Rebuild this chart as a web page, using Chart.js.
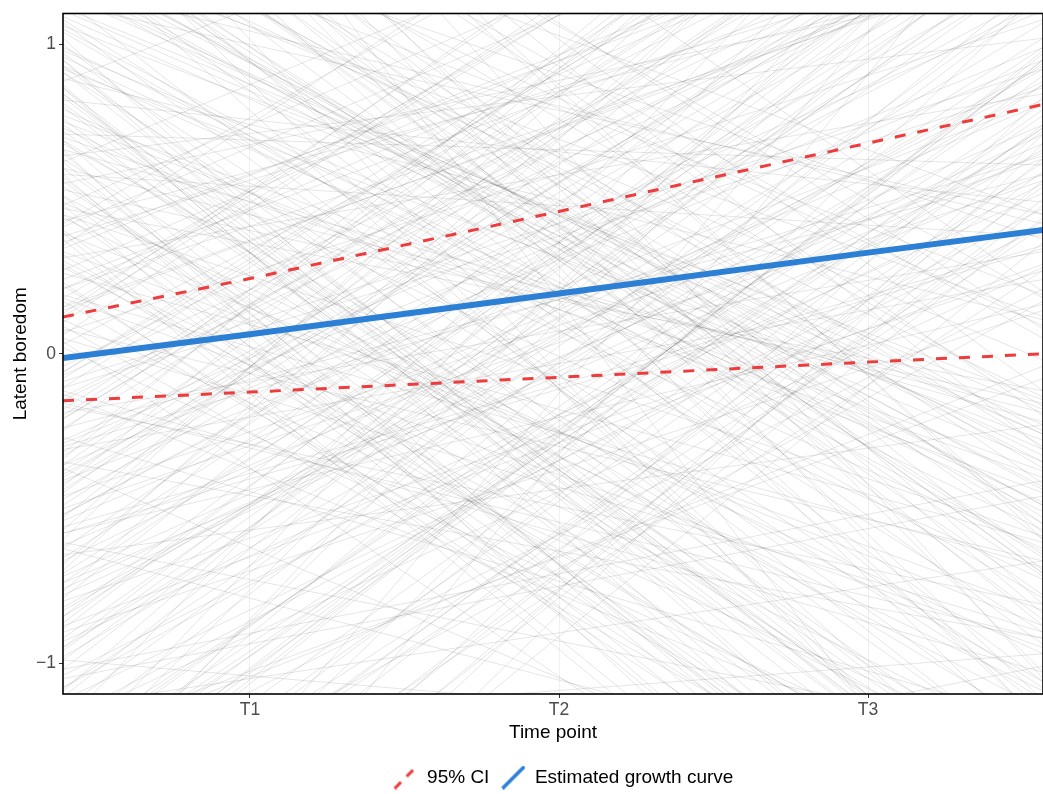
<!DOCTYPE html>
<html>
<head>
<meta charset="utf-8">
<script src="https://cdn.jsdelivr.net/npm/chart.js@4.4.0/dist/chart.umd.min.js"></script>
<style>
  html, body { margin: 0; padding: 0; background: #fff; }
  #wrap { width: 1043px; height: 794px; }
</style>
</head>
<body>
<div id="wrap"><canvas id="growthChart"></canvas></div>
<script>
// x range of the panel and tick labels
const xMin = 0.395;
const xMax = 3.566;
const timeLabels = ['T1', 'T2', 'T3'];

// individual trajectories: value at left edge and at right edge of the panel
const startY = [
  1.05, -0.82, 0.34, -1.40, 0.91, -0.15, 1.62, -0.63, 0.12, -1.08,
  0.77, 0.48, -0.37, 1.28, -0.95, 0.05, -1.72, 0.66, -0.21, 1.15,
  -0.54, 0.88, -1.25, 0.29, 1.45, -0.71, 0.18, -0.04, 0.99, -1.33,
  0.57, -0.88, 1.36, -0.28, 0.73, -1.55, 0.41, 1.21, -0.46, -0.99,
  0.24, 1.83, -0.12, -0.67, 0.95, -1.18, 0.62, 0.08, -0.31, 1.09,
  -1.90, 0.51, -0.76, 1.52, 0.36, -0.58, -1.02, 0.84, 0.15, -0.24,
  1.31, -1.46, 0.69, -0.09, 0.45, -0.85, 1.71, -0.39, 0.22, -1.12,
  0.93, -0.60, 1.04, -0.19, 0.55, -1.63, 0.31, 1.18, -0.49, 0.02,
  -0.93, 0.79, 1.41, -0.33, -1.21, 0.64, 0.11, -0.72, 1.26, -0.06,
  0.47, -1.37, 0.86, -0.52, 1.58, -0.17, 0.38, -1.05, 0.71, -0.27,
  1.12, -0.80, 0.19, 0.97, -1.50, 0.58, -0.42, 1.33, -0.11, -0.65,
  0.27, 1.67, -0.90, 0.43, -0.35, 0.82, -1.28, 0.07, 1.48, -0.56,
  -0.74, 0.63, 1.19, -1.15, 0.26, -0.44, 0.92, -0.98, 1.39, 0.14,
  -0.29, 0.75, -1.41, 0.53, 1.07, -0.62, 0.33, -1.09, 0.89, -0.13,
  1.24, -0.87, 0.44, -0.50, 1.56, -1.31, 0.60, -0.07, 0.81, -0.78,
  -1.19, 0.39, 1.13, -0.36, 0.68, -1.58, 0.21, 0.96, -0.41, 1.44
];
const endY = [
  -0.64, 0.93, 1.58, 0.21, -1.12, 1.37, 0.45, -1.47, 2.05, 0.66,
  -0.38, 1.84, -1.71, 0.12, 1.02, -0.90, 0.54, -0.22, 1.69, -1.34,
  0.81, 2.12, -0.08, -1.56, 0.37, 1.25, -0.95, 1.48, -0.51, 0.73,
  -1.88, 0.29, -0.14, 1.11, -0.73, 0.98, 1.76, -0.43, 0.63, -1.26,
  1.41, 0.05, -1.03, 0.88, -1.62, 0.47, 1.93, -0.67, 0.24, -0.31,
  1.18, -1.15, 0.71, -0.86, 1.52, 0.16, -0.41, -1.39, 1.29, 0.58,
  -0.02, 1.64, -1.21, 0.92, -0.59, 1.07, -0.17, 1.35, -1.77, 0.41,
  -0.48, 2.31, -0.79, 0.33, 1.21, -1.01, 0.84, -0.26, 1.57, -1.44,
  0.52, -0.63, 0.19, 1.45, -0.97, 1.02, -1.30, 0.68, -0.35, 1.86,
  -0.12, 0.77, -1.58, 1.14, 0.09, -0.81, 1.33, -0.46, 0.61, -1.19,
  1.72, 0.27, -0.69, -1.08, 0.95, 0.38, 1.44, -1.52, 0.86, -0.23,
  1.61, -0.55, 0.14, 1.26, -0.92, 0.49, -0.04, 1.08, -1.67, 0.35,
  0.58, -1.36, 0.42, 1.17, -0.61, 1.53, -0.28, 0.87, -0.94, 1.31,
  0.99, -0.45, 1.22, -0.16, -1.24, 0.74, -0.83, 1.65, 0.11, -1.41,
  -0.33, 1.46, -1.09, 0.56, -0.71, 0.94, -0.19, 1.38, -1.53, 0.65,
  0.28, -0.88, 0.45, 1.79, -1.06, 0.17, 1.27, -0.57, 0.82, -0.25
];
// steeper trajectories, same layout
const startY2 = [
  2.10, -2.30, 0.62, -0.18, 1.74, -1.66, 0.35, 2.45, -0.92, 0.04,
  -1.48, 0.83, 1.96, -0.57, -2.05, 0.28, 1.38, -0.79, 0.66, -1.23,
  0.15, 2.28, -0.40, 1.02, -1.81, 0.49, -0.11, 1.59, -2.40, 0.91,
  -0.66, 0.37, 1.23, -1.36, 2.02, -0.25, 0.74, -1.04, 0.10, 1.85,
  -1.60, 0.56, -0.34, 1.30, -2.15, 0.98, 0.21, -0.83, 1.67, -0.47,
  0.69, -1.92, 1.44, -0.06, 2.35, -1.11, 0.40, -0.70, 1.16, -1.45,
  0.03, 1.90, -0.53, 0.80, -1.75, 1.27, -0.20, 0.58, -2.22, 1.08,
  -0.89, 0.45, 2.18, -1.29, 0.13, -0.61, 1.52, -1.02, 0.87, -0.30,
  1.70, -2.00, 0.32, -0.77, 1.11, -1.53, 0.65, 2.40, -0.38, -1.14,
  0.54, -0.08, 1.35, -1.70, 0.95, -0.43, 2.08, -0.96, 0.17, 1.48,
  -1.32, 0.72, -0.24, 1.81, -2.12, 0.30, 1.06, -0.68, 0.48, -1.57,
  1.62, -0.14, 0.86, -1.20, 2.25, -0.52, 0.09, -1.85, 1.19, 0.39,
  -0.99, 1.41, -0.32, 0.76, -1.42, 1.97, -0.63, 0.23, -2.28, 0.93,
  0.60, -1.08, 1.29, -0.45, 1.88, -1.62, 0.42, -0.16, 1.00, -0.85,
  -0.21, 2.14, -1.38, 0.51, -0.74, 1.36, -1.96, 0.18, 1.73, -0.58,
  0.84, -1.27, 0.06, 1.57, -0.95, 2.30, -0.36, 0.70, -1.50, 1.12
];
const endY2 = [
  -1.20, 1.60, -1.95, 1.85, -0.42, 0.72, 2.40, -1.05, 1.30, -2.10,
  0.95, -1.62, 0.18, 2.20, 0.44, -1.38, -0.65, 1.72, -2.30, 1.15,
  2.05, -0.58, 1.48, -1.86, 0.27, -0.97, 1.93, -0.30, 0.68, -1.54,
  1.36, -2.25, -0.49, 1.77, -0.81, 2.15, -1.44, 0.55, 2.33, -0.70,
  0.62, -1.90, 2.28, -1.06, 0.83, -0.35, 1.58, 0.92, -1.76, 1.25,
  -2.02, 0.48, -1.15, 1.96, -0.60, 1.40, -1.82, 2.10, -0.23, 0.79,
  1.64, -1.30, 2.02, -1.68, 0.59, -0.44, 1.85, -2.18, 0.36, -0.90,
  1.52, -1.78, -0.12, 0.87, 2.26, -1.24, -0.53, 1.39, -1.98, 0.64,
  -0.88, 1.70, -1.57, 2.12, -0.26, 0.97, -2.06, 0.20, 1.58, -0.67,
  -1.43, 1.88, -0.72, 0.41, -1.85, 2.24, 0.08, 1.31, -1.66, -0.37,
  2.00, -1.50, 1.63, -0.84, 0.56, -1.27, -0.15, 1.92, -2.14, 0.74,
  -0.60, 1.44, -1.92, 2.08, -0.31, 1.17, -1.71, 0.63, -0.49, -2.20,
  1.26, -0.78, 2.17, -1.61, 0.90, -0.20, 1.49, -1.88, 0.71, -1.33,
  -1.74, 0.99, -0.55, 1.82, -1.12, 0.43, 2.22, -0.92, -1.47, 1.54,
  1.67, -1.03, 0.73, -2.05, 1.35, -0.66, 0.50, 1.99, -1.19, 0.34,
  -1.58, 0.81, 2.19, -0.71, 1.47, -1.90, 0.95, -0.40, 1.86, -0.18
];

// estimated growth curve and its 95% CI
const curveX = [0.395, 1, 2, 3, 3.566];
const growthCurve = [-0.014, 0.063, 0.195, 0.327, 0.400];
const ciUpper = [0.119, 0.243, 0.460, 0.681, 0.806];
const ciLower = [-0.152, -0.124, -0.076, -0.027, 0.000];

const RED = '#EE3B3B';
const BLUE = '#2B7FD5';
const FONT = 'Liberation Sans, Arial, sans-serif';

// legend key glyphs: diagonal strokes like ggplot's abline key,
// with a little blank room on the left to space the items apart
function keyGlyph(color, dashed) {
  const c = document.createElement('canvas');
  c.width = 28; c.height = 24;
  const g = c.getContext('2d');
  g.strokeStyle = color;
  g.lineWidth = dashed ? 3 : 3.5;
  g.lineCap = 'butt';
  if (dashed) g.setLineDash([9, 8]);
  g.beginPath();
  g.moveTo(5, 23);
  g.lineTo(27, 1);
  g.stroke();
  return c;
}

const toPoints = (xs, ys) => xs.map((x, i) => ({ x: x, y: ys[i] }));

const datasets = [];
datasets.push({
  label: '95% CI', data: toPoints(curveX, ciUpper),
  borderColor: RED, borderWidth: 3, borderDash: [11, 12], order: 1,
  pointStyle: keyGlyph(RED, true)
});
datasets.push({
  label: '95% CI lower', data: toPoints(curveX, ciLower),
  borderColor: RED, borderWidth: 3, borderDash: [11, 12], order: 1
});
datasets.push({
  label: 'Estimated growth curve', data: toPoints(curveX, growthCurve),
  borderColor: BLUE, borderWidth: 6, order: 0,
  pointStyle: keyGlyph(BLUE, false)
});
function addTrajectories(a, b) {
  for (let i = 0; i < Math.min(a.length, b.length); i++) {
    datasets.push({
      label: 'traj', data: [{ x: xMin, y: a[i] }, { x: xMax, y: b[i] }],
      borderColor: 'rgba(0,0,0,0.1)', borderWidth: 1, order: 5
    });
  }
}
addTrajectories(startY, endY);
addTrajectories(startY2, endY2);

// panel border on all four sides
const panelBorder = {
  id: 'panelBorder',
  afterDatasetsDraw(chart) {
    const { ctx, chartArea: a } = chart;
    ctx.save();
    ctx.strokeStyle = '#000';
    ctx.lineWidth = 1.6;
    ctx.strokeRect(a.left, a.top, a.right - a.left, a.bottom - a.top);
    ctx.restore();
  }
};

// centre the legend under the panel (not the whole canvas), a bit lower
const legendShift = {
  id: 'legendShift',
  afterLayout(chart) {
    const lg = chart.legend;
    if (!lg) return;
    lg.left += 40; lg.right += 40;
    lg.top += 3; lg.bottom += 3;
  }
};

new Chart(document.getElementById('growthChart'), {
  type: 'line',
  data: { datasets: datasets },
  options: {
    responsive: true,
    maintainAspectRatio: false,
    animation: false,
    events: [],
    layout: { padding: { left: 0, right: 0, top: 13, bottom: 0 } },
    elements: { point: { radius: 0 }, line: { tension: 0 } },
    plugins: {
      tooltip: { enabled: false },
      legend: {
        position: 'bottom',
        labels: {
          usePointStyle: true,
          pointStyleWidth: 28,
          color: '#000',
          font: { family: FONT, size: 19 },
          padding: 8,
          filter: item => item.text === '95% CI' || item.text === 'Estimated growth curve',
          sort: (a, b) => a.datasetIndex - b.datasetIndex
        }
      }
    },
    scales: {
      x: {
        type: 'linear',
        min: xMin, max: xMax,
        afterBuildTicks: axis => { axis.ticks = [1, 2, 3].map(v => ({ value: v })); },
        afterFit: axis => { axis.height = 63; },
        ticks: {
          callback: v => timeLabels[v - 1],
          color: '#4D4D4D', padding: 2,
          font: { family: FONT, size: 17.5 },
          maxRotation: 0
        },
        grid: { color: 'rgba(0,0,0,0.06)', tickColor: '#333', tickLength: 4, drawOnChartArea: true },
        border: { display: false },
        title: {
          display: true, text: 'Time point', color: '#000',
          font: { family: FONT, size: 19 },
          padding: { top: 2, bottom: 13 }
        }
      },
      y: {
        min: -1.1, max: 1.1,
        afterBuildTicks: axis => { axis.ticks = [-1, 0, 1].map(v => ({ value: v })); },
        afterFit: axis => { axis.width = 63; },
        ticks: {
          callback: v => (v < 0 ? '\u2212' + Math.abs(v) : String(v)),
          color: '#4D4D4D', padding: 3,
          font: { family: FONT, size: 17.5 }
        },
        grid: { drawOnChartArea: false, tickColor: '#333', tickLength: 4 },
        border: { display: false },
        title: {
          display: true, text: 'Latent boredom', color: '#000',
          font: { family: FONT, size: 19 },
          padding: { top: 9, bottom: 4 }
        }
      }
    }
  },
  plugins: [panelBorder, legendShift]
});
</script>
</body>
</html>
